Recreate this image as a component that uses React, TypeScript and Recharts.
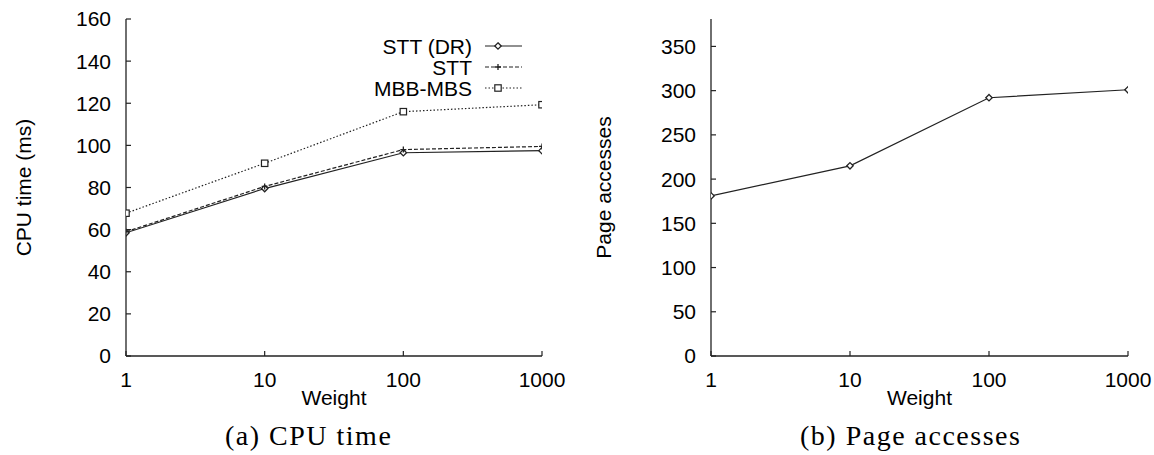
import { LineChart, Line, XAxis, YAxis, Legend } from "recharts";

const WEIGHTS = [1, 10, 100, 1000];
const STT_DR_CPU = [58.5, 79.5, 96.5, 97.5];
const STT_CPU = [59, 80.5, 98, 99.5];
const MBB_MBS_CPU = [67.8, 91.5, 116, 119.3];
const PAGE_ACCESSES = [181, 215, 292, 301];

const CPU_TICKS = [0, 20, 40, 60, 80, 100, 120, 140, 160];
const PAGE_TICKS = [0, 50, 100, 150, 200, 250, 300, 350];

const INK = "#222";
const SANS = "'Liberation Sans', Arial, sans-serif";
const SERIF = "'Liberation Serif', 'Times New Roman', serif";
const FONT = 21;

type Shape = "diamond" | "plus" | "square";

const CPU_SERIES: { key: string; name: string; dash?: string; shape: Shape }[] = [
  { key: "sttDr", name: "STT (DR)", shape: "diamond" },
  { key: "stt", name: "STT", dash: "4 2", shape: "plus" },
  { key: "mbb", name: "MBB-MBS", dash: "1.5 2", shape: "square" },
];

const cpuRows = WEIGHTS.map((w, i) => ({
  w,
  sttDr: STT_DR_CPU[i],
  stt: STT_CPU[i],
  mbb: MBB_MBS_CPU[i],
}));
const pageRows = WEIGHTS.map((w, i) => ({ w, pages: PAGE_ACCESSES[i] }));

function Marker(props: { cx?: number; cy?: number; shape: Shape }) {
  const { cx, cy, shape } = props;
  if (cx == null || cy == null) return null;
  if (shape === "diamond") {
    const r = 3.2;
    return (
      <path
        d={`M${cx} ${cy - r}L${cx + r} ${cy}L${cx} ${cy + r}L${cx - r} ${cy}Z`}
        fill="#fff"
        stroke={INK}
        strokeWidth={1.3}
      />
    );
  }
  if (shape === "plus") {
    const r = 3;
    return <path d={`M${cx - r} ${cy}H${cx + r}M${cx} ${cy - r}V${cy + r}`} stroke={INK} strokeWidth={1.3} />;
  }
  const r = 3.2;
  return <rect x={cx - r} y={cy - r} width={2 * r} height={2 * r} fill="#fff" stroke={INK} strokeWidth={1.2} />;
}

function renderCpuLegend() {
  return (
    <svg width={180} height={72} style={{ overflow: "visible" }}>
      {CPU_SERIES.map((s, i) => {
        const y = 16 + i * 21;
        return (
          <g key={s.key}>
            <text x={112} y={y} dy="0.36em" textAnchor="end" fontFamily={SANS} fontSize={FONT} fill="#000">
              {s.name}
            </text>
            <line x1={125} x2={162} y1={y} y2={y} stroke={INK} strokeWidth={1.2} strokeDasharray={s.dash} />
            <Marker cx={138} cy={y} shape={s.shape} />
          </g>
        );
      })}
    </svg>
  );
}

// rotated axis title, placed `gap` px left of the axis line
function yLabel(text: string, gap: number) {
  return {
    content: (p: any) => {
      const vb = p.viewBox || {};
      const x = vb.x + vb.width - gap;
      const y = vb.y + vb.height / 2;
      return (
        <text x={x} y={y} transform={`rotate(-90 ${x} ${y})`} textAnchor="middle" fontFamily={SANS} fontSize={FONT} fill="#000">
          {text}
        </text>
      );
    },
  };
}

const tickStyle = { fill: "#000", fontSize: FONT, fontFamily: SANS };
const axisLine = { stroke: INK, strokeWidth: 1.3 };
const tickLine = { stroke: INK, strokeWidth: 1.2 };

function axes(yMax: number, yTicks: number[], label: string, labelGap: number) {
  return [
    <XAxis
      key="xb"
      dataKey="w"
      type="number"
      scale="log"
      domain={[1, 1000]}
      ticks={WEIGHTS}
      allowDataOverflow
      height={49}
      tick={tickStyle}
      tickSize={-5}
      tickMargin={21}
      axisLine={axisLine}
      tickLine={tickLine}
      label={{ value: "Weight", position: "insideBottom", offset: 0, fill: "#000", fontSize: FONT, fontFamily: SANS }}
    />,
    <XAxis
      key="xt"
      xAxisId="top"
      orientation="top"
      dataKey="w"
      type="number"
      scale="log"
      domain={[1, 1000]}
      ticks={WEIGHTS}
      allowDataOverflow
      height={0}
      tick={false}
      tickSize={-5}
      axisLine={axisLine}
      tickLine={tickLine}
    />,
    <YAxis
      key="yl"
      type="number"
      domain={[0, yMax]}
      ticks={yTicks}
      allowDataOverflow
      width={60}
      tick={tickStyle}
      tickSize={-5}
      tickMargin={20}
      axisLine={axisLine}
      tickLine={tickLine}
      label={yLabel(label, labelGap)}
    />,
    <YAxis
      key="yr"
      yAxisId="right"
      orientation="right"
      type="number"
      domain={[0, yMax]}
      ticks={yTicks}
      allowDataOverflow
      width={0}
      tick={false}
      tickSize={-5}
      axisLine={axisLine}
      tickLine={tickLine}
    />,
  ];
}

export default function App() {
  return (
    <div style={{ position: "absolute", left: 0, top: 0, width: 1154, height: 455, background: "#fff", fontFamily: SANS }}>
      <div style={{ position: "absolute", left: 0, top: 0 }}>
        <LineChart width={577} height={455} data={cpuRows} margin={{ top: 19, right: 35, left: 66, bottom: 50 }}>
          {axes(160, CPU_TICKS, "CPU time (ms)", 95)}
          {CPU_SERIES.map((s) => (
            <Line
              key={s.key}
              dataKey={s.key}
              name={s.name}
              type="linear"
              stroke={INK}
              strokeWidth={1.2}
              strokeDasharray={s.dash}
              dot={(p: any) => <Marker key={`${s.key}-${p.index}`} cx={p.cx} cy={p.cy} shape={s.shape} />}
              activeDot={false}
              isAnimationActive={false}
            />
          ))}
          <Legend
            layout="vertical"
            align="center"
            verticalAlign="middle"
            content={renderCpuLegend}
            wrapperStyle={{ left: 360, top: 30, width: 180, height: 72 }}
          />
        </LineChart>
      </div>
      <div style={{ position: "absolute", left: 577, top: 0 }}>
        <LineChart width={577} height={455} data={pageRows} margin={{ top: 19, right: 26, left: 74, bottom: 50 }}>
          {axes(381, PAGE_TICKS, "Page accesses", 100)}
          <Line
            dataKey="pages"
            name="Page accesses"
            type="linear"
            stroke={INK}
            strokeWidth={1.2}
            dot={(p: any) => <Marker key={`pg-${p.index}`} cx={p.cx} cy={p.cy} shape="diamond" />}
            activeDot={false}
            isAnimationActive={false}
          />
        </LineChart>
      </div>
      <svg width={1154} height={455} style={{ position: "absolute", left: 0, top: 0, pointerEvents: "none" }}>
        <text x={225} y={445} fontFamily={SERIF} fontSize={28} letterSpacing={1.5} fill="#000">
          (a) CPU time
        </text>
        <text x={800} y={445} fontFamily={SERIF} fontSize={28} letterSpacing={1.5} fill="#000">
          (b) Page accesses
        </text>
      </svg>
    </div>
  );
}
